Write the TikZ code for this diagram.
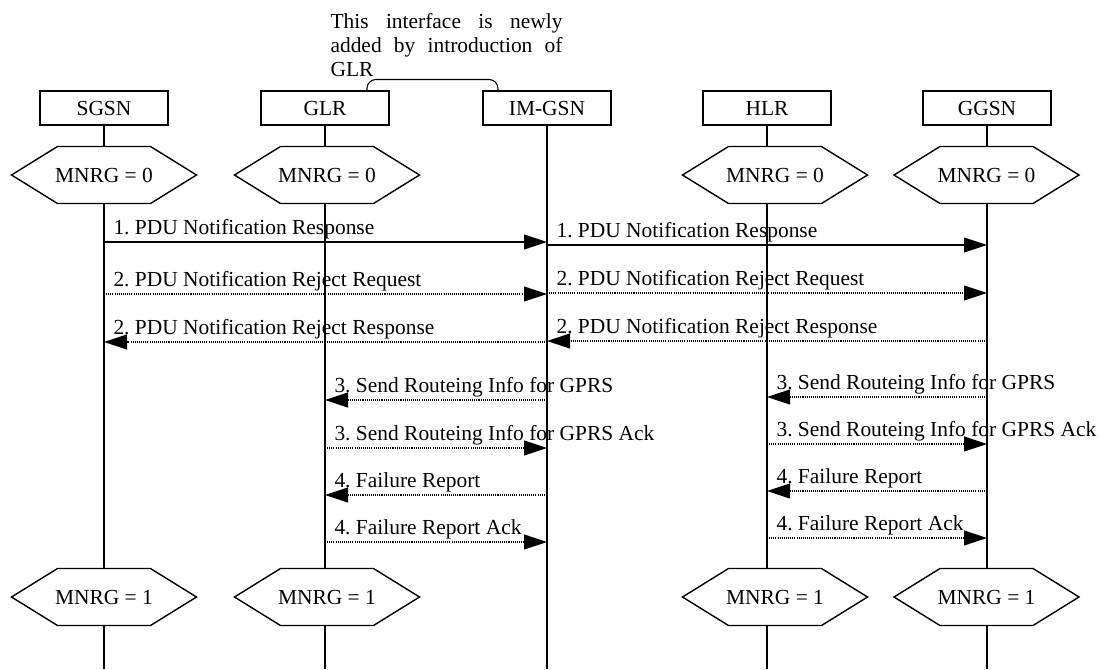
\documentclass[tikz,border=0pt]{standalone}
\usepackage{fontspec}
\setmainfont{Liberation Serif}
\usepackage{tikz}
\usetikzlibrary{calc,arrows.meta}
\newcommand{\tikzStateNode}[3]{
  \node[inner sep=0pt,minimum height=1.14cm,minimum width=1.86cm] (#1) at (#2) {#3};
  \path[draw,thick] (#2) ++(-1.85,0) -- ++(0.92,0.57) -- ++(1.86,0) -- ++(0.92,-0.57)
    -- ++(-0.92,-0.57) -- ++(-1.86,0) -- cycle;
}

\begin{document}
\begin{tikzpicture}[semithick,font=\fontsize{12.2}{13.6}\selectfont\frenchspacing,
  entity/.style={draw,rectangle,inner sep=0pt,minimum height=0.68cm,minimum width=2.56cm},
  msg/.style={-{Triangle[length=0.46cm,width=0.3cm]}},
  dotmsg/.style={msg,dash pattern=on 0.6pt off 0.6pt},
  lbl/.style={anchor=base west,inner sep=0pt,xshift=0.18cm,yshift=0.16cm}]
  \useasboundingbox (0,0) rectangle (22.16,-13.38);
  \node [entity] (sgsn)  at ( 2.08,-2.16) {SGSN};
  \node [entity] (glr)   at ( 6.50,-2.16) {GLR};
  \node [entity] (imgsn) at (10.94,-2.16) {IM-GSN};
  \node [entity] (hlr)   at (15.34,-2.16) {HLR};
  \node [entity] (ggsn)  at (19.74,-2.16) {GGSN};
  \coordinate (bottom) at (0,-13.38);
  % note on the new interface
  \node [anchor=north west,inner sep=0pt,text width=4.64cm,align=justify] (note) at (6.6,-0.26)
    {\hyphenpenalty=10000 \tolerance=10000 This interface is newly added by introduction of GLR};
  \path[draw,rounded corners=0.18cm] ([xshift=0.84cm]glr.north) -- ++(0,0.22) -| ([xshift=-0.98cm]imgsn.north);
  % states
  \tikzStateNode{asgsn}{2.08,-3.5}{MNRG = 0}
  \tikzStateNode{aglr}{6.54,-3.5}{MNRG = 0}
  \tikzStateNode{ahlr}{15.5,-3.5}{MNRG = 0}
  \tikzStateNode{aggsn}{19.73,-3.5}{MNRG = 0}
  \tikzStateNode{bsgsn}{2.08,-11.94}{MNRG = 1}
  \tikzStateNode{bglr}{6.54,-11.94}{MNRG = 1}
  \tikzStateNode{bhlr}{15.5,-11.94}{MNRG = 1}
  \tikzStateNode{bggsn}{19.73,-11.94}{MNRG = 1}
  % lifelines
  \foreach \n in {sgsn,glr,hlr,ggsn}{
    \draw (\n.south) -- (\n |- a\n.north);
    \draw (\n |- a\n.south) -- (\n |- b\n.north);
    \draw (\n |- b\n.south) -- (\n |- bottom);
  }
  \draw (imgsn.south) -- (imgsn |- bottom);
  % messages
  \draw[msg] (sgsn |- 0,-4.84) -- (imgsn |- 0,-4.84) node[lbl,pos=0] {1. PDU Notification Response};
  \draw[msg] (imgsn |- 0,-4.90) -- (ggsn |- 0,-4.90) node[lbl,pos=0] {1. PDU Notification Response};
  \draw[dotmsg] (sgsn |- 0,-5.88) -- (imgsn |- 0,-5.88) node[lbl,pos=0] {2. PDU Notification Reject Request};
  \draw[dotmsg] (imgsn |- 0,-5.86) -- (ggsn |- 0,-5.86) node[lbl,pos=0] {2. PDU Notification Reject Request};
  \draw[dotmsg] (imgsn |- 0,-6.84) -- (sgsn |- 0,-6.84) node[lbl,pos=1] {2. PDU Notification Reject Response};
  \draw[dotmsg] (ggsn |- 0,-6.82) -- (imgsn |- 0,-6.82) node[lbl,pos=1] {2. PDU Notification Reject Response};
  \draw[dotmsg] (imgsn |- 0,-8.00) -- (glr |- 0,-8.00) node[lbl,pos=1] {3. Send Routeing Info for GPRS};
  \draw[dotmsg] (ggsn |- 0,-7.94) -- (hlr |- 0,-7.94) node[lbl,pos=1] {3. Send Routeing Info for GPRS};
  \draw[dotmsg] (glr |- 0,-8.96) -- (imgsn |- 0,-8.96) node[lbl,pos=0] {3. Send Routeing Info for GPRS Ack};
  \draw[dotmsg] (hlr |- 0,-8.88) -- (ggsn |- 0,-8.88) node[lbl,pos=0] {3. Send Routeing Info for GPRS Ack};
  \draw[dotmsg] (imgsn |- 0,-9.90) -- (glr |- 0,-9.90) node[lbl,pos=1] {4. Failure Report};
  \draw[dotmsg] (ggsn |- 0,-9.82) -- (hlr |- 0,-9.82) node[lbl,pos=1] {4. Failure Report};
  \draw[dotmsg] (glr |- 0,-10.84) -- (imgsn |- 0,-10.84) node[lbl,pos=0] {4. Failure Report Ack};
  \draw[dotmsg] (hlr |- 0,-10.76) -- (ggsn |- 0,-10.76) node[lbl,pos=0] {4. Failure Report Ack};
\end{tikzpicture}
\end{document}
